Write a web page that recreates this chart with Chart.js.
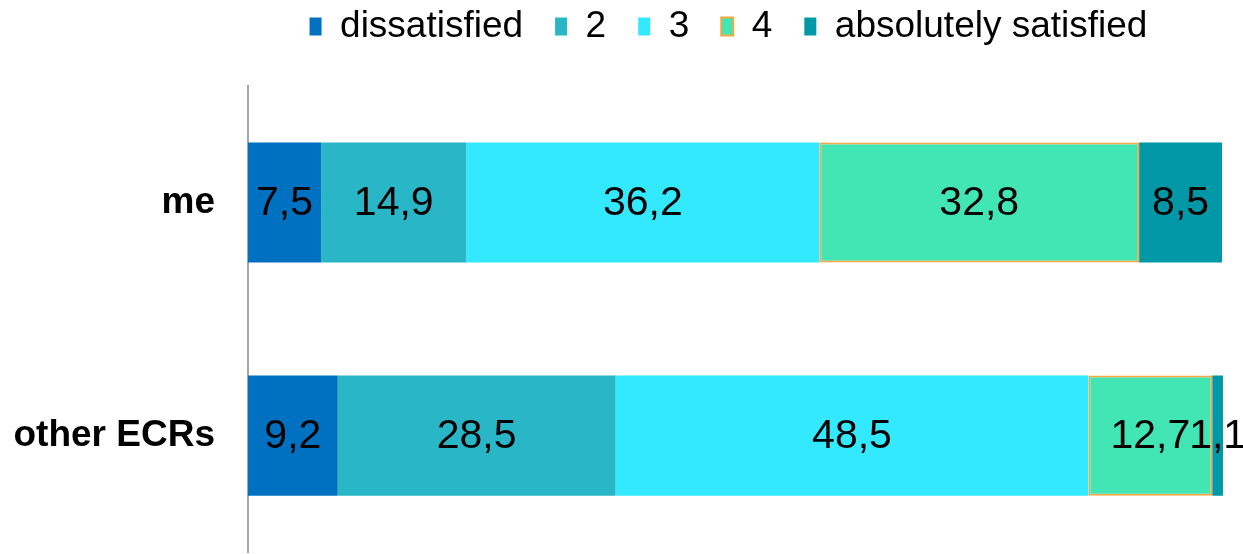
<!DOCTYPE html>
<html>
<head>
<meta charset="utf-8">
<title>Satisfaction</title>
<script src="https://cdn.jsdelivr.net/npm/chart.js@4/dist/chart.umd.min.js"></script>
<style>
  html, body { margin: 0; padding: 0; background: #fff; }
  #wrap { width: 1243px; height: 554px; position: relative; }
</style>
</head>
<body>
<div id="wrap"><canvas id="chart"></canvas></div>
<script>
/* ── data ── */
const CATEGORIES = ['me', 'other ECRs'];
const SERIES = ['dissatisfied', '2', '3', '4', 'absolutely satisfied'];
const DISSATISFIED = [7.5, 9.2];
const LEVEL_2 = [14.9, 28.5];
const LEVEL_3 = [36.2, 48.5];
const LEVEL_4 = [32.8, 12.7];
const SATISFIED = [8.5, 1.1];

const COLORS = ['#0070C0', '#29B7C7', '#33E9FF', '#42E6B5', '#0098A6'];
const BORDERS = [null, null, null, '#F2A944', null];

const values = [DISSATISFIED, LEVEL_2, LEVEL_3, LEVEL_4, SATISFIED];
const FONT = '"Liberation Sans", Arial, sans-serif';

/* ── value labels inside bars ── */
const barLabels = {
  id: 'barLabels',
  afterDatasetsDraw(chart) {
    const ctx = chart.ctx;
    ctx.save();
    ctx.font = '41px ' + FONT;
    ctx.fillStyle = '#000';
    ctx.textAlign = 'center';
    ctx.textBaseline = 'middle';
    chart.data.datasets.forEach((ds, i) => {
      chart.getDatasetMeta(i).data.forEach((bar, j) => {
        const txt = String(ds.data[j]).replace('.', ',');
        ctx.fillText(txt, (bar.x + bar.base) / 2, bar.y + 1);
      });
    });
    ctx.restore();
  }
};

/* ── legend centred over the plot, pulled up ── */
const legendShift = {
  id: 'legendShift',
  afterLayout(chart) {
    const lg = chart.legend;
    if (!lg) return;
    lg.left = chart.chartArea.left - 7;
    lg.right = chart.chartArea.right - 7;
    lg.top -= 31;
    lg.bottom -= 31;
  }
};

new Chart(document.getElementById('chart'), {
  type: 'bar',
  data: {
    labels: CATEGORIES,
    datasets: SERIES.map((name, i) => ({
      label: name,
      data: values[i],
      backgroundColor: COLORS[i],
      borderColor: BORDERS[i] || COLORS[i],
      borderWidth: BORDERS[i] ? 2 : 0,
      borderSkipped: false,
      categoryPercentage: 1,
      barPercentage: 0.515
    }))
  },
  options: {
    indexAxis: 'y',
    responsive: true,
    maintainAspectRatio: false,
    animation: false,
    layout: { padding: { top: 7, right: 20, bottom: -5, left: 0 } },
    plugins: {
      tooltip: { enabled: false },
      legend: {
        position: 'top',
        labels: {
          color: '#000',
          font: { family: FONT, size: 37 },
          boxWidth: 12,
          boxHeight: 18,
          padding: 32
        }
      }
    },
    scales: {
      x: {
        stacked: true,
        min: 0,
        max: 100,
        display: false
      },
      y: {
        stacked: true,
        grid: { display: true, drawOnChartArea: false, drawTicks: true, tickLength: 33, color: 'rgba(0,0,0,0)' },
        border: { display: true, color: '#A6A6A6', width: 2 },
        ticks: {
          color: '#000',
          padding: 0,
          font: { family: FONT, size: 37, weight: 'bold', lineHeight: 0.1 }
        },
        afterFit(scale) { scale.width = 248; }
      }
    }
  },
  plugins: [barLabels, legendShift]
});
</script>
</body>
</html>
